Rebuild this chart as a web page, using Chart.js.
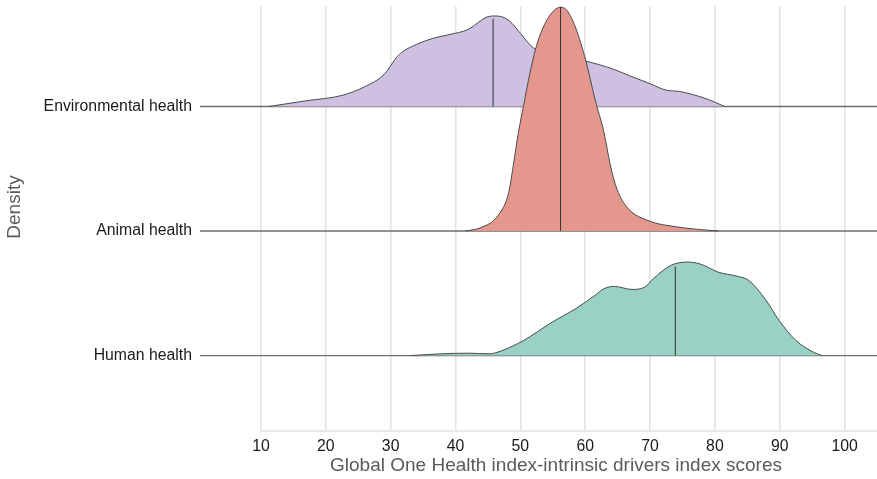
<!DOCTYPE html>
<html>
<head>
<meta charset="utf-8">
<script src="https://cdn.jsdelivr.net/npm/chart.js@4.4.1/dist/chart.umd.min.js"></script>
<style>
  html, body { margin: 0; padding: 0; background: #fff; }
  #wrap { width: 877px; height: 479px; }
</style>
</head>
<body>
<div id="wrap"><canvas id="chart"></canvas></div>
<script>
// rows from bottom to top
const CATEGORIES = ['Human health', 'Animal health', 'Environmental health'];
const X_TICKS = [10, 20, 30, 40, 50, 60, 70, 80, 90, 100];
const X_MIN = 0.6, X_MAX = 105;
const X_TITLE = 'Global One Health index-intrinsic drivers index scores';
const Y_TITLE = 'Density';

// density heights (in row units)
const humanX = [33.2, 37.9, 41.9, 45.2, 47.2, 50.5, 54.9, 58.5, 61.5, 62.9, 64.5, 67.2, 69.2, 70.5, 73.2, 75.9, 77.9, 80.5, 83.5, 85.2, 87.9, 89.9, 92.5, 95.2, 96.5];
const humanD = [0, 0.014, 0.019, 0.014, 0.040, 0.121, 0.268, 0.375, 0.483, 0.537, 0.555, 0.531, 0.550, 0.617, 0.724, 0.751, 0.732, 0.670, 0.636, 0.604, 0.443, 0.282, 0.121, 0.027, 0];

const animalX = [41.5, 43.9, 46.5, 48.2, 48.9, 49.7, 50.5, 51.5, 52.5, 53.9, 55.2, 56.2, 57.2, 58.5, 60.1, 61.5, 62.9, 63.9, 64.9, 66.5, 69.9, 73.9, 77.2, 80.5];
const animalD = [0, 0.027, 0.121, 0.308, 0.523, 0.791, 1.006, 1.274, 1.489, 1.676, 1.771, 1.797, 1.771, 1.636, 1.368, 1.060, 0.791, 0.523, 0.336, 0.188, 0.080, 0.035, 0.014, 0];

const envX = [11.2, 17, 22.5, 26, 29, 31, 32, 34, 36.5, 39, 42, 43.5, 44.7, 46, 47.5, 48.7, 50, 52, 55, 58, 60, 62, 64, 67, 70, 72.5, 74.5, 76.5, 79, 81.5];
const envD = [0, 0.046, 0.089, 0.159, 0.258, 0.400, 0.445, 0.499, 0.547, 0.577, 0.620, 0.674, 0.716, 0.727, 0.714, 0.668, 0.588, 0.472, 0.419, 0.384, 0.365, 0.338, 0.306, 0.244, 0.183, 0.131, 0.121, 0.097, 0.056, 0];

const MEDIANS = [73.9, 56.2, 45.8];
const MEDIAN_TOPS = [0.715, 1.80, 0.704];

const FILLS = ['#9AD1C5', '#E4988D', '#CDC0E0'];
const FONT = '"Liberation Sans", Arial, Helvetica, sans-serif';

const curves = [[humanX, humanD], [animalX, animalD], [envX, envD]];

// lower order is drawn on top: environmental under animal
const datasets = [];
CATEGORIES.forEach((name, row) => {
  const [xs, ds] = curves[row];
  datasets.push({
    label: name + ' baseline',
    data: [{ x: X_MIN, y: row }, { x: X_MAX, y: row }],
    borderColor: '#6e6e6e', borderWidth: 1.3, pointRadius: 0, fill: false,
    order: 100
  });
  datasets.push({
    label: name,
    data: xs.map((x, i) => ({ x, y: row + ds[i] })),
    borderColor: '#4a4a4a', borderWidth: 1, pointRadius: 0,
    backgroundColor: FILLS[row],
    fill: { value: row },
    cubicInterpolationMode: 'monotone',
    order: 20 + row * 10
  });
  datasets.push({
    label: name + ' median',
    data: [{ x: MEDIANS[row], y: row }, { x: MEDIANS[row], y: row + MEDIAN_TOPS[row] }],
    borderColor: '#333', borderWidth: 1, pointRadius: 0, fill: false,
    order: 19 + row * 10
  });
});

const decor = {
  id: 'decor',
  afterDraw(chart) {
    const { ctx, chartArea, scales: { x } } = chart;
    ctx.save();
    ctx.strokeStyle = '#e2e2e2';
    ctx.lineWidth = 1.5;
    ctx.beginPath();
    ctx.moveTo(x.getPixelForValue(10) - 0.75, chartArea.bottom);
    ctx.lineTo(chartArea.right, chartArea.bottom);
    ctx.stroke();
    ctx.fillStyle = '#5a5a5a';
    ctx.font = '19px ' + FONT;
    ctx.textAlign = 'center';
    ctx.textBaseline = 'middle';
    ctx.fillText(X_TITLE, 556, 466);
    ctx.translate(15, 207);
    ctx.rotate(-Math.PI / 2);
    ctx.fillText(Y_TITLE, 0, 0);
    ctx.restore();
  }
};

new Chart(document.getElementById('chart'), {
  type: 'line',
  data: { datasets },
  options: {
    responsive: true,
    maintainAspectRatio: false,
    animation: false,
    layout: { padding: { top: 6, right: 0, left: 0, bottom: 0 } },
    plugins: { legend: { display: false }, tooltip: { enabled: false } },
    scales: {
      x: {
        type: 'linear', min: X_MIN, max: X_MAX,
        afterBuildTicks: s => { s.ticks = X_TICKS.map(v => ({ value: v })); },
        afterFit: s => { s.height = 48; s.paddingLeft = 0; s.paddingRight = 0; },
        grid: { color: '#e2e2e2', lineWidth: 1.5, drawTicks: false },
        border: { display: false },
        ticks: { color: '#1a1a1a', font: { size: 15.8, family: FONT }, padding: 6, maxRotation: 0 }
      },
      y: {
        type: 'linear', min: -0.606, max: 2.807,
        afterBuildTicks: s => { s.ticks = CATEGORIES.map((c, i) => ({ value: i })); },
        afterFit: s => { s.width = 200; s.paddingTop = 0; s.paddingBottom = 0; },
        grid: { display: false, drawTicks: false },
        border: { display: false },
        ticks: { color: '#1a1a1a', font: { size: 15.8, family: FONT }, padding: 8,
          callback: v => CATEGORIES[v] }
      }
    }
  },
  plugins: [decor]
});
</script>
</body>
</html>
